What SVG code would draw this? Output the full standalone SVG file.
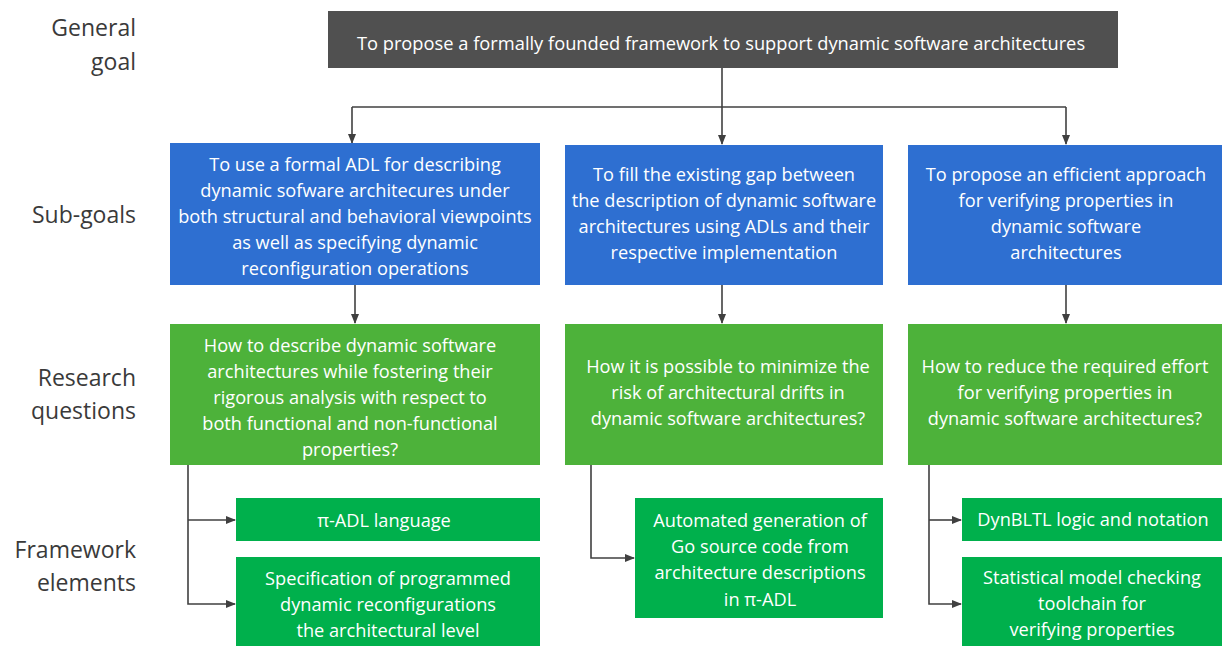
<svg xmlns="http://www.w3.org/2000/svg" width="1222" height="646" viewBox="0 0 1222 646">
<style>
text{font-family:"Open Sans","Noto Sans","Liberation Sans",sans-serif;}
.lbl{font-size:23px;fill:#3a3a3a;text-anchor:end;}
.t{font-size:18.2px;fill:#ffffff;text-anchor:middle;}
.top{font-size:18.3px;fill:#ffffff;text-anchor:middle;}
.gray{fill:#505050;}
.blue{fill:#2e6fd1;}
.rq{fill:#4db23a;}
.fw{fill:#00b04c;}
.c{stroke:#404040;stroke-width:1.6;fill:none;}
</style>
<defs>
<marker id="ah" markerWidth="10" markerHeight="10" refX="9" refY="5" orient="auto" markerUnits="userSpaceOnUse">
<path d="M0,1 L10,5 L0,9 Z" fill="#404040"/>
</marker>
</defs>
<g id="labels">
<text class="lbl" x="136" y="36">General</text>
<text class="lbl" x="136" y="70">goal</text>
<text class="lbl" x="136" y="223">Sub-goals</text>
<text class="lbl" x="136" y="386">Research</text>
<text class="lbl" x="136" y="419">questions</text>
<text class="lbl" x="136" y="558">Framework</text>
<text class="lbl" x="136" y="591">elements</text>
</g>
<g id="connectors">
<path class="c" d="M722,68 V107"/>
<path class="c" d="M352,107 H1066"/>
<path class="c" d="M352,107 V143" marker-end="url(#ah)"/>
<path class="c" d="M722,107 V144" marker-end="url(#ah)"/>
<path class="c" d="M1066,107 V144" marker-end="url(#ah)"/>
<path class="c" d="M355,285 V323" marker-end="url(#ah)"/>
<path class="c" d="M722,285 V323" marker-end="url(#ah)"/>
<path class="c" d="M1066,285 V323" marker-end="url(#ah)"/>
<path class="c" d="M188,465 V604 H235" marker-end="url(#ah)"/>
<path class="c" d="M188,520 H235" marker-end="url(#ah)"/>
<path class="c" d="M591,465 V558 H634" marker-end="url(#ah)"/>
<path class="c" d="M929,465 V604 H961" marker-end="url(#ah)"/>
<path class="c" d="M929,520 H961" marker-end="url(#ah)"/>
</g>
<g id="goal">
<rect class="gray" x="328" y="11" width="790" height="57"/>
<text class="top" x="721" y="50">To propose a formally founded framework to support dynamic software architectures</text>
</g>
<g id="subgoal1">
<rect class="blue" x="170" y="143" width="370" height="142"/>
<text class="t" x="355"><tspan x="355" y="171">To use a formal ADL for describing</tspan><tspan x="355" y="197">dynamic sofware architecures under</tspan><tspan x="355" y="223">both structural and behavioral viewpoints</tspan><tspan x="355" y="249">as well as specifying dynamic</tspan><tspan x="355" y="275">reconfiguration operations</tspan></text>
</g>
<g id="subgoal2">
<rect class="blue" x="565" y="145" width="318" height="140"/>
<text class="t" x="724"><tspan x="724" y="181">To fill the existing gap between</tspan><tspan x="724" y="207">the description of dynamic software</tspan><tspan x="724" y="233">architectures using ADLs and their</tspan><tspan x="724" y="259">respective implementation</tspan></text>
</g>
<g id="subgoal3">
<rect class="blue" x="908" y="145" width="314" height="140"/>
<text class="t" x="1066"><tspan x="1066" y="181">To propose an efficient approach</tspan><tspan x="1066" y="207">for verifying properties in</tspan><tspan x="1066" y="233">dynamic software</tspan><tspan x="1066" y="259">architectures</tspan></text>
</g>
<g id="rq1">
<rect class="rq" x="170" y="324" width="370" height="141"/>
<text class="t" x="350"><tspan x="350" y="352">How to describe dynamic software</tspan><tspan x="350" y="378">architectures while fostering their</tspan><tspan x="350" y="404">rigorous analysis with respect to</tspan><tspan x="350" y="430">both functional and non-functional</tspan><tspan x="350" y="456">properties?</tspan></text>
</g>
<g id="rq2">
<rect class="rq" x="565" y="324" width="318" height="141"/>
<text class="t" x="728"><tspan x="728" y="373">How it is possible to minimize the</tspan><tspan x="728" y="399">risk of architectural drifts in</tspan><tspan x="728" y="425">dynamic software architectures?</tspan></text>
</g>
<g id="rq3">
<rect class="rq" x="908" y="324" width="314" height="141"/>
<text class="t" x="1065"><tspan x="1065" y="373">How to reduce the required effort</tspan><tspan x="1065" y="399">for verifying properties in</tspan><tspan x="1065" y="425">dynamic software architectures?</tspan></text>
</g>
<g id="fw1">
<rect class="fw" x="236" y="498" width="304" height="43"/>
<text class="t" x="384" y="527">π-ADL language</text>
</g>
<g id="fw2">
<rect class="fw" x="236" y="557" width="304" height="89"/>
<text class="t" x="388"><tspan x="388" y="585">Specification of programmed</tspan><tspan x="388" y="611">dynamic reconfigurations</tspan><tspan x="388" y="637">the architectural level</tspan></text>
</g>
<g id="fw3">
<rect class="fw" x="635" y="498" width="248" height="120"/>
<text class="t" x="760"><tspan x="760" y="527">Automated generation of</tspan><tspan x="760" y="553">Go source code from</tspan><tspan x="760" y="579">architecture descriptions</tspan><tspan x="760" y="606">in π-ADL</tspan></text>
</g>
<g id="fw4">
<rect class="fw" x="962" y="498" width="260" height="43"/>
<text class="t" x="1093" y="526">DynBLTL logic and notation</text>
</g>
<g id="fw5">
<rect class="fw" x="962" y="557" width="260" height="89"/>
<text class="t" x="1092"><tspan x="1092" y="584">Statistical model checking</tspan><tspan x="1092" y="610">toolchain for</tspan><tspan x="1092" y="636">verifying properties</tspan></text>
</g>
</svg>
